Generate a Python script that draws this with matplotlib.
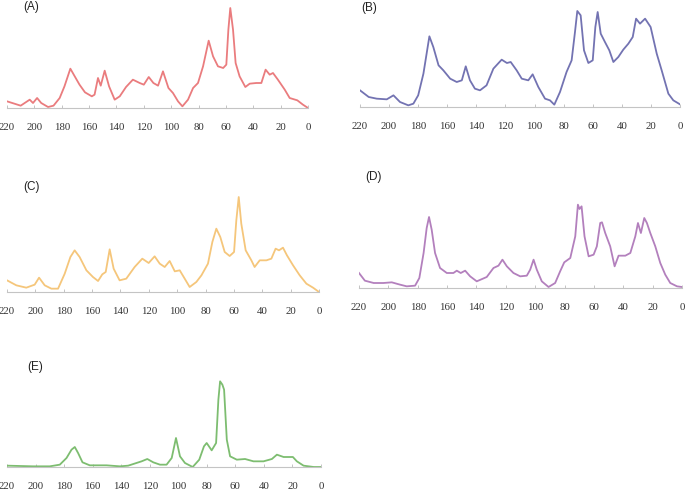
import matplotlib
matplotlib.use("Agg")
import matplotlib.pyplot as plt

# chemical shift (ppm) and intensity (arbitrary units)
ppm_a = [220, 210, 203.4, 201, 198, 195, 190, 186, 181.5, 178, 173.7, 170.5, 167, 163, 158, 156,
         153.5, 151.5, 148.6, 145.4, 141.3, 137.6, 133, 128, 123, 120, 116.4, 113, 109.6, 106, 102,
         98.7, 95, 91.8, 87.7, 84, 80.4, 76.7, 72.6, 69.4, 65.8, 62, 59.7, 58.2, 56.8, 54.8, 52.9,
         50, 45.8, 42.6, 37.8, 34.1, 31, 28, 25.6, 22, 17, 13.4, 7.8, 3.7, 0]
int_a = [20, 7, 25, 15, 30, 15, 3, 7, 30, 65, 118, 95, 70, 47, 35, 40,
         90, 67, 112, 65, 25, 35, 63, 85, 75, 70, 93, 75, 67, 110, 60,
         45, 20, 5, 25, 60, 75, 125, 202, 155, 125, 120, 130, 235, 300, 235, 135,
         95, 63, 73, 75, 75, 115, 100, 105, 85, 55, 30, 23, 10, 0]

ppm_b = [220, 214, 208.5, 201.6, 197, 192.5, 186.8, 183.3, 180, 176.4, 172.3, 169.6, 166, 162.7,
         158, 153.5, 150, 147.3, 144.4, 141, 137.5, 133, 128.3, 122.6, 119, 116.4, 112.3, 108.8,
         104.3, 101.3, 97.4, 92.8, 89.4, 86.4, 82.5, 78, 74.5, 72.2, 70.6, 68.3, 66, 63, 60, 58.2,
         56.6, 54.5, 51.6, 48.6, 45.8, 42.4, 39, 35.5, 32.5, 30.2, 27.5, 24, 20.2, 16, 12.6, 8,
         4.6, 0]
int_b = [50, 30, 25, 23, 35, 15, 5, 10, 35, 100, 212, 180, 125, 110,
         85, 75, 80, 122, 80, 55, 50, 65, 115, 142, 132, 135, 110, 85,
         80, 98, 60, 25, 20, 7, 45, 105, 140, 225, 288, 275, 170, 132, 140, 240,
         285, 220, 195, 170, 135, 150, 172, 190, 210, 265, 250, 265, 240, 160, 110, 40,
         20, 8]

ppm_c = [220, 213.4, 206.4, 200.5, 197.4, 193.4, 188.7, 184, 179.3, 175.3, 172.3, 168.8, 164,
         159.4, 155.8, 152.8, 150.4, 147.6, 144.8, 140.6, 135.9, 130, 124.6, 120.1, 115.9, 112.3,
         108.8, 105.3, 101.7, 98.2, 94.7, 91.2, 86.5, 82.9, 78.3, 75.2, 72.4, 69.6, 66.5, 63, 59.9,
         58.3, 56.6, 54.8, 51.7, 47.7, 45.4, 41.8, 37.1, 33.6, 30.6, 28.2, 25.4, 22.6, 18.3, 13.6,
         8.9, 4.2, 0]
int_c = [35, 20, 13, 22, 43, 20, 10, 10, 55, 105, 125, 105, 65,
         45, 33, 53, 60, 128, 70, 35, 40, 75, 100, 87, 107, 85,
         75, 93, 62, 65, 40, 15, 30, 50, 85, 150, 190, 165, 120, 108, 120,
         215, 285, 205, 125, 95, 75, 95, 95, 100, 130, 125, 133, 110, 80, 50,
         25, 13, 0]

ppm_d = [220, 216, 210, 203.4, 197.7, 192, 187.5, 181.8, 178.9, 176, 173.9, 172.3, 170.5, 168.2,
         164.8, 160.2, 155.7, 153.4, 150.7, 147.7, 144.3, 139.8, 133, 128.4, 125, 122.3, 119.3,
         114.8, 110.2, 105.7, 103.4, 101.1, 98.9, 95.5, 90.9, 86.4, 83, 80.2, 76.1, 72.7, 70.9,
         69.8, 68.4, 66.4, 63.6, 60.2, 58, 55.7, 54.5, 52.3, 48.9, 45.9, 43.2, 38.6, 35.2, 31.8,
         30, 28, 25.7, 23.9, 21.6, 18.2, 14.8, 11.4, 8, 3.4, 0]
int_d = [45, 22, 15, 15, 17, 10, 5, 7, 30, 105, 180, 213, 175, 105,
         60, 45, 45, 52, 45, 52, 35, 20, 33, 60, 67, 85, 65,
         45, 35, 37, 55, 85, 55, 20, 3, 15, 50, 77, 90, 155, 250,
         237, 245, 155, 95, 100, 125, 195, 197, 165, 125, 65, 97, 97, 105, 155,
         195, 165, 210, 195, 165, 125, 75, 40, 15, 5, 3]

ppm_e = [220, 201.7, 190, 183, 178.3, 174.8, 172.5, 170.2, 167.1, 162, 150.3, 140.9, 135.1, 131.5,
         125.7, 121.7, 117.5, 112.8, 108.2, 104.6, 101.6, 98.8, 95.3, 89.9, 85.3, 82, 80.1, 76.6,
         73.5, 71.9, 70.7, 69.1, 67.9, 66, 63.7, 59, 53.2, 47.3, 40.3, 34.4, 30.9, 26.2, 19.7,
         16.9, 12.2, 5.1, 0]
int_e = [4, 2, 2, 7, 27, 52, 60, 42, 14, 5, 5, 2, 4, 9,
         17, 24, 14, 7, 7, 27, 87, 32, 12, 0, 22, 62, 72, 50,
         72, 202, 257, 247, 232, 82, 32, 22, 24, 17, 17, 24, 37, 30, 30,
         17, 4, 0, 0]

labels = ["(A)", "(B)", "(C)", "(D)", "(E)"]
colors = ["#ea7c7e", "#7373b2", "#f5c67b", "#b380bd", "#7dbd70"]
spectra = [(ppm_a, int_a), (ppm_b, int_b), (ppm_c, int_c), (ppm_d, int_d), (ppm_e, int_e)]

W, H = 685, 491
# left px, right px, axis-line px, top px
boxes = [(7, 308, 108, 0), (360, 680, 107, 0), (7, 319, 292, 170),
         (359, 682, 288, 170), (7, 321, 467, 350)]
label_pos = [(31, 7), (369, 8), (31, 187), (374, 177), (35, 367)]

fig = plt.figure(figsize=(W / 100, H / 100), dpi=100)

for (x, y), lab, col, (l, r, b, t), (lx, ly) in zip(spectra, labels, colors, boxes, label_pos):
    ax = fig.add_axes([l / W, (H - b) / H, (r - l) / W, (b - t) / H])
    ax.plot(x, y, color=col, lw=1.3)
    ax.set_xlim(220, 0)
    ax.set_ylim(0, (b - t) * 3)
    ax.set_xticks(range(220, -1, -20))
    for s in ["top", "left", "right"]:
        ax.spines[s].set_visible(False)
    ax.spines["bottom"].set_color("#c4c4c4")
    ax.spines["bottom"].set_linewidth(0.8)
    ax.set_yticks([])
    ax.tick_params(axis="x", direction="in", length=2.5, width=0.7, color="#c4c4c4",
                   pad=11, labelsize=7.8, labelcolor="#333333")
    for tl in ax.get_xticklabels():
        tl.set_family("Liberation Serif")
    ax.patch.set_visible(False)
    fig.text(lx / W, 1 - ly / H, lab, ha="center", va="center", fontsize=8.5,
             family="Liberation Sans", color="#222222")

fig.savefig("out.png", dpi=100)
